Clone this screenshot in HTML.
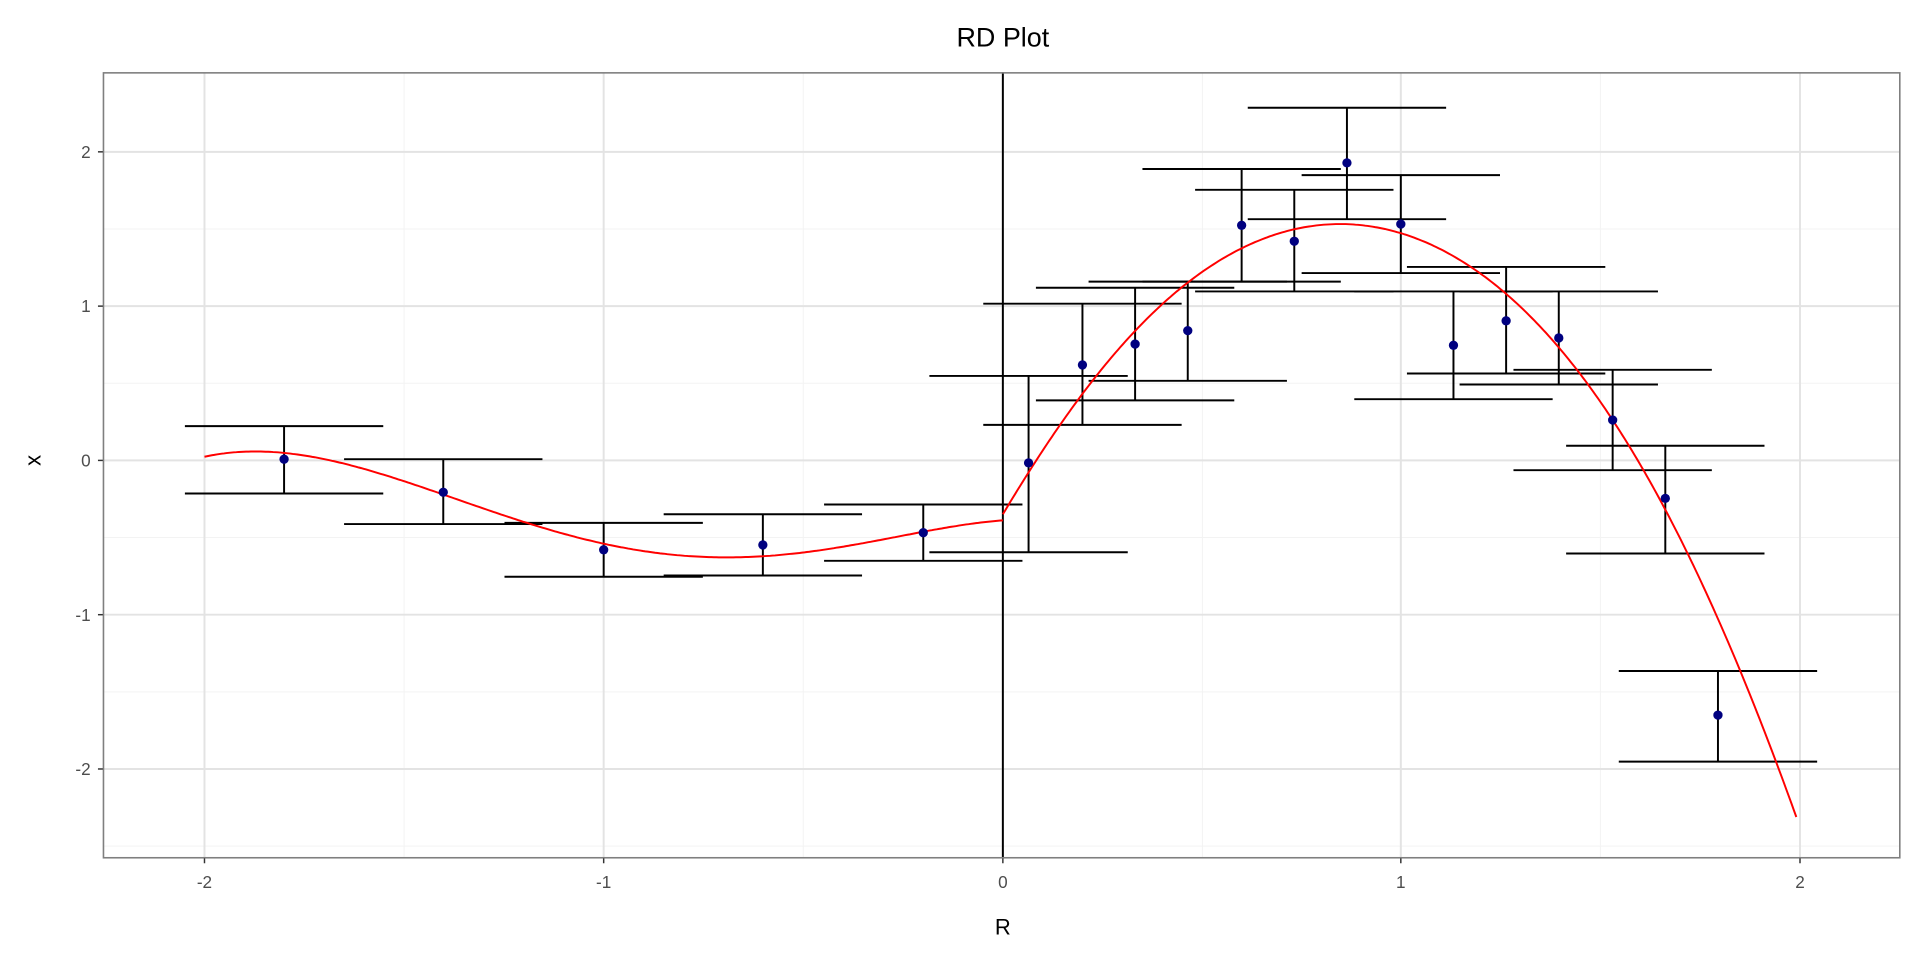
<!DOCTYPE html>
<html><head><meta charset="utf-8"><style>
body{margin:0;background:#fff;}
svg{display:block;font-family:"Liberation Sans","DejaVu Sans",sans-serif;}
</style></head><body>
<svg id="s" width="1920" height="960" viewBox="0 0 1568 784" preserveAspectRatio="none" xmlns="http://www.w3.org/2000/svg">
<rect width="1568" height="784" fill="#fff"/>
<g id="grid"></g>
<g id="bars" stroke="#000" stroke-width="1.6" fill="none"></g>
<line x1="819" y1="59" x2="819" y2="700" stroke="#000" stroke-width="1.6"/>
<path id="c1" fill="none" stroke="#ff0000" stroke-width="1.6"/>
<path id="c2" fill="none" stroke="#ff0000" stroke-width="1.6"/>
<g id="pts" fill="#000080"></g>
<rect x="84.5" y="59.5" width="1467" height="641" fill="none" stroke="#7f7f7f" stroke-width="1.3"/>
<g stroke="#333" stroke-width="1.2">
<line x1="80" x2="84" y1="124" y2="124"/><line x1="80" x2="84" y1="250" y2="250"/><line x1="80" x2="84" y1="376" y2="376"/><line x1="80" x2="84" y1="502" y2="502"/><line x1="80" x2="84" y1="628" y2="628"/>
<line y1="701" y2="705" x1="167" x2="167"/><line y1="701" y2="705" x1="493" x2="493"/><line y1="701" y2="705" x1="819" x2="819"/><line y1="701" y2="705" x1="1144" x2="1144"/><line y1="701" y2="705" x1="1470" x2="1470"/>
</g>
<g font-size="14" fill="#4d4d4d" text-anchor="middle">
<text x="167" y="725">-2</text><text x="493" y="725">-1</text><text x="819" y="725">0</text><text x="1144" y="725">1</text><text x="1470" y="725">2</text>
</g>
<g font-size="14" fill="#4d4d4d" text-anchor="end">
<text x="74" y="129">2</text><text x="74" y="255">1</text><text x="74" y="381">0</text><text x="74" y="507">-1</text><text x="74" y="633">-2</text>
</g>
<text x="819" y="763" font-size="18" text-anchor="middle" fill="#000">R</text>
<text transform="translate(33,376) rotate(-90)" font-size="18" text-anchor="middle" fill="#000">x</text>
<text x="819" y="38" font-size="22" text-anchor="middle" fill="#000">RD Plot</text>
</svg>
<script>
var NS="http://www.w3.org/2000/svg";
function el(p,t,a){var e=document.createElementNS(NS,t);for(var k in a)e.setAttribute(k,a[k]);p.appendChild(e);return e;}
var g=document.getElementById("grid");
[330,656,982,1307].forEach(function(x){el(g,"line",{x1:x,x2:x,y1:59,y2:700,stroke:"#f3f3f3","stroke-width":0.8});});
[187,313,439,565,691].forEach(function(y){if(y<700)el(g,"line",{x1:84,x2:1552,y1:y,y2:y,stroke:"#f3f3f3","stroke-width":0.8});});
[167,493,819,1144,1470].forEach(function(x){el(g,"line",{x1:x,x2:x,y1:59,y2:700,stroke:"#e3e3e3","stroke-width":1.6});});
[124,250,376,502,628].forEach(function(y){el(g,"line",{x1:84,x2:1552,y1:y,y2:y,stroke:"#e3e3e3","stroke-width":1.6});});
var P=[[232,375,348,403],[362,402,375,428],[493,449,427,471],[623,445,420,470],[754,435,412,458],[840,378,307,451],[884,298,248,347],[927,281,235,327],[970,270,230,311],[1014,184,138,230],[1057,197,155,238],[1100,133,88,179],[1144,183,143,223],[1187,282,238,326],[1230,262,218,305],[1273,276,238,314],[1317,343,302,384],[1360,407,364,452],[1403,584,548,622]];
var b=document.getElementById("bars"),pt=document.getElementById("pts");
P.forEach(function(p){
 el(b,"line",{x1:p[0],x2:p[0],y1:p[2],y2:p[3]});
 el(b,"line",{x1:p[0]-81,x2:p[0]+81,y1:p[2],y2:p[2]});
 el(b,"line",{x1:p[0]-81,x2:p[0]+81,y1:p[3],y2:p[3]});
 el(pt,"circle",{cx:p[0],cy:p[1],r:3.8});
});
function lag(pts,x){var s=0;for(var i=0;i<pts.length;i++){var t=pts[i][1];for(var j=0;j<pts.length;j++)if(j!=i)t*=(x-pts[j][0])/(pts[i][0]-pts[j][0]);s+=t;}return s;}
function path(pts,x0,x1){var d="";for(var x=x0;x<=x1;x+=2){d+=(d?"L":"M")+x+","+lag(pts,x).toFixed(1);}return d;}
document.getElementById("c1").setAttribute("d",path([[167,373],[210,368.7],[367,405.6],[493,444],[580,455],[819,425]],167,819));
document.getElementById("c2").setAttribute("d",path([[819,420],[883,323],[971,230],[1092,183],[1230,240],[1317,343],[1468,670]],819,1468));
</script>
</body></html>
